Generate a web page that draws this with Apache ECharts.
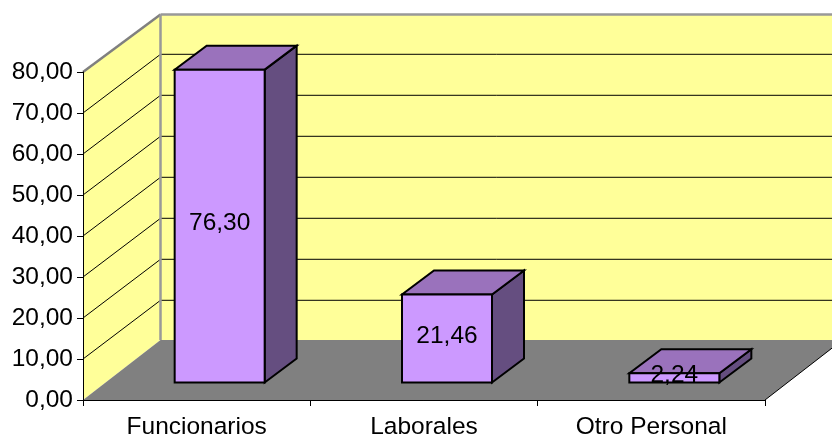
<!DOCTYPE html>
<html>
<head>
<meta charset="utf-8">
<script src="https://cdn.jsdelivr.net/npm/echarts@6/dist/echarts.min.js"></script>
<style>html,body{margin:0;padding:0;background:#fff}#c{width:832px;height:437px}</style>
</head>
<body>
<div id="c"></div>
<script>
var categories = ['Funcionarios', 'Laborales', 'Otro Personal'];
var values = [76.30, 21.46, 2.24];
var gridValues = [10, 20, 30, 40, 50, 60, 70];

var FONT = '"Liberation Sans", Arial, sans-serif';
var FS = 24.5;
var DEPTH_X = 77.5, DEPTH_Y = -57.5, LINE_DY = -58.7, FLOOR_DY = -60;
var BAR_DX = 23, BAR_DY = -17.5, BAR_W = 90, BAR_DEPTH_X = 32, BAR_DEPTH_Y = -24;
function fmt(v) { return v.toFixed(2).replace('.', ','); }
function poly(points, fill, stroke, lw) {
  return { type: 'polygon', shape: { points: points },
    style: { fill: fill, stroke: stroke || null, lineWidth: lw || 0, lineJoin: 'miter' } };
}
function line(a, b, stroke, lw) {
  return { type: 'line', shape: { x1: a[0], y1: a[1], x2: b[0], y2: b[1] },
    style: { stroke: stroke, lineWidth: lw, fill: null } };
}

function renderWalls(params, api) {
  var cs = params.coordSys;
  var L = cs.x, R = cs.x + cs.width;
  var y0 = api.coord([0, 0])[1], yTop = api.coord([0, 80])[1];
  var c = [];
  c.push(poly([[L + DEPTH_X, yTop + DEPTH_Y], [R + DEPTH_X, yTop + DEPTH_Y], [R + DEPTH_X, y0 + FLOOR_DY], [L + DEPTH_X, y0 + FLOOR_DY]], '#FFFF99'));
  c.push(poly([[L, yTop], [L + DEPTH_X, yTop + DEPTH_Y], [L + DEPTH_X, y0 + FLOOR_DY], [L, y0]], '#FFFF99'));
  gridValues.forEach(function (v) {
    var y = api.coord([0, v])[1];
    c.push(line([L, y], [L + DEPTH_X, y + LINE_DY], '#000', 1));
    c.push(line([L + DEPTH_X, y + LINE_DY], [R + DEPTH_X, y + LINE_DY], '#000', 1));
  });
  c.push(poly([[L, y0], [R, y0], [R + DEPTH_X, y0 + FLOOR_DY], [L + DEPTH_X, y0 + FLOOR_DY]], '#808080'));
  c.push(line([L, yTop], [L + DEPTH_X, yTop + DEPTH_Y], '#808080', 2.5));
  c.push(line([L + DEPTH_X, yTop + DEPTH_Y], [R + DEPTH_X, yTop + DEPTH_Y], '#999', 2.5));
  c.push(line([L + DEPTH_X, yTop + DEPTH_Y], [L + DEPTH_X, y0 + FLOOR_DY], '#999', 2.5));
  c.push(line([R, y0], [R + DEPTH_X, y0 + FLOOR_DY], '#000', 1));
  return { type: 'group', children: c };
}

function renderBar(params, api) {
  var p0 = api.coord([api.value(0), 0]);
  var p1 = api.coord([api.value(0), api.value(1)]);
  var xl = p0[0] + BAR_DX - BAR_W / 2, xr = xl + BAR_W;
  var yb = p0[1] + BAR_DY, yt = p1[1] + BAR_DY;
  var dx = BAR_DEPTH_X, dy = BAR_DEPTH_Y;
  return { type: 'group', children: [
    poly([[xr, yb], [xr + dx, yb + dy], [xr + dx, yt + dy], [xr, yt]], '#654E80', '#000', 2),
    poly([[xl, yt], [xr, yt], [xr + dx, yt + dy], [xl + dx, yt + dy]], '#9A72BC', '#000', 2),
    poly([[xl, yb], [xr, yb], [xr, yt], [xl, yt]], '#CC99FF', '#000', 2),
    { type: 'text', z2: 10, style: { x: (xl + xr) / 2, y: (yb + yt) / 2 - 2.5, text: fmt(api.value(1)),
      fill: '#000', font: FS + 'px ' + FONT, align: 'center', verticalAlign: 'middle' } }
  ] };
}

var chart = echarts.init(document.getElementById('c'), null, { renderer: 'canvas' });
chart.setOption({
  animation: false,
  backgroundColor: '#fff',
  grid: { left: 83, right: 67, top: 72, bottom: 37, containLabel: false, outerBoundsMode: 'none' },
  xAxis: {
    type: 'category', data: categories, z: 6,
    axisLine: { lineStyle: { color: '#000', width: 1 } },
    axisTick: { show: true, length: 6, lineStyle: { color: '#000' } },
    axisLabel: { color: '#000', fontFamily: FONT, fontSize: FS, margin: 15, interval: 0 },
    splitLine: { show: false }
  },
  yAxis: {
    type: 'value', min: 0, max: 80, interval: 10, z: 6,
    axisLine: { show: true, lineStyle: { color: '#000', width: 1 } },
    axisTick: { show: true, length: 6, lineStyle: { color: '#000' } },
    axisLabel: { color: '#000', fontFamily: FONT, fontSize: FS, margin: 10, formatter: fmt },
    splitLine: { show: false }
  },
  series: [
    { type: 'custom', z: 1, silent: true, renderItem: renderWalls, data: [[0, 0]], encode: { x: 0, y: 1 } },
    { type: 'custom', z: 2, silent: true, renderItem: renderBar,
      data: values.map(function (v, i) { return [i, v]; }), encode: { x: 0, y: 1 } }
  ]
});
</script>
</body>
</html>
